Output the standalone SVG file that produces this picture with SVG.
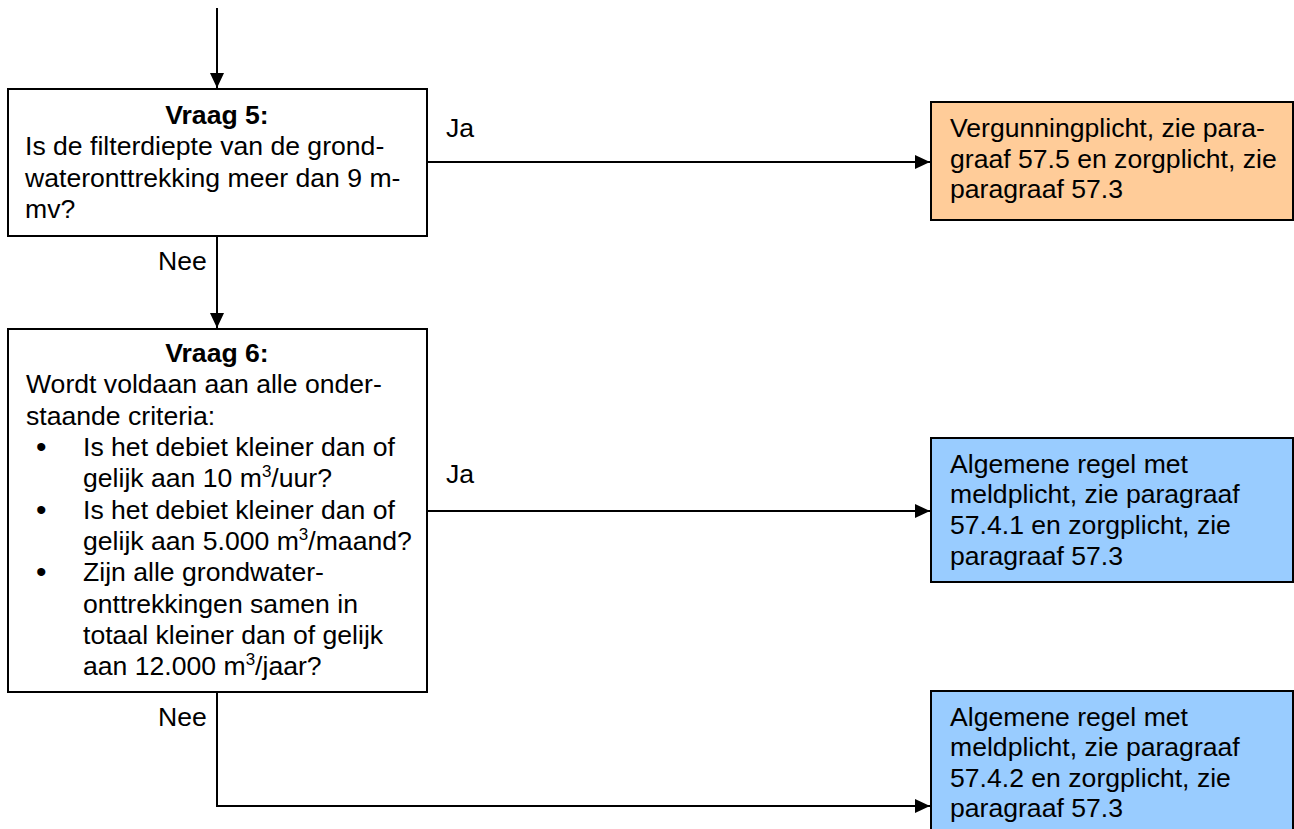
<svg xmlns="http://www.w3.org/2000/svg" width="1294" height="829" viewBox="0 0 1294 829">
<style>
text{font-family:"Liberation Sans",Arial,sans-serif;font-size:26.6px;fill:#000}
.b{font-weight:bold}
.c{text-anchor:middle}
.box{stroke:#000;stroke-width:2}
.q{fill:#fff}
.o{fill:#ffcc99}
.bl{fill:#99ccff}
.ln{fill:none;stroke:#000;stroke-width:2}
.sup{font-size:17px}
.dot{font-size:30px}
</style>
<defs>
<marker id="ah" markerWidth="15" markerHeight="14" refX="15" refY="7" orient="auto" markerUnits="userSpaceOnUse">
<path d="M0,0 L15,7 L0,14 Z" fill="#000"/>
</marker>
</defs>
<rect width="1294" height="829" fill="#fff"/>
<g id="connectors">
<path class="ln" d="M217,8 V88" marker-end="url(#ah)"/>
<path class="ln" d="M427,162 H930" marker-end="url(#ah)"/>
<path class="ln" d="M217,236 V328" marker-end="url(#ah)"/>
<path class="ln" d="M427,511 H930" marker-end="url(#ah)"/>
<path class="ln" d="M217,692 V806 H930" marker-end="url(#ah)"/>
<text x="446" y="137">Ja</text>
<text x="158" y="270">Nee</text>
<text x="446" y="483">Ja</text>
<text x="158" y="726">Nee</text>
</g>
<g id="vraag5">
<rect class="box q" x="8" y="89" width="419" height="147"/>
<text class="b c" x="217" y="124">Vraag 5:</text>
<text x="25" y="155.4">Is de filterdiepte van de grond-</text>
<text x="25" y="186.7">wateronttrekking meer dan 9 m-</text>
<text x="25" y="218">mv?</text>
</g>
<g id="vraag6">
<rect class="box q" x="8" y="329" width="419" height="363"/>
<text class="b c" x="217" y="362">Vraag 6:</text>
<text x="26" y="393.4">Wordt voldaan aan alle onder-</text>
<text x="26" y="424.7">staande criteria:</text>
<text class="dot" x="36" y="457">•</text>
<text x="83" y="456">Is het debiet kleiner dan of</text>
<text x="83" y="487.4">gelijk aan 10 m<tspan class="sup" dy="-10">3</tspan><tspan dy="10">/uur?</tspan></text>
<text class="dot" x="36" y="519.7">•</text>
<text x="83" y="518.7">Is het debiet kleiner dan of</text>
<text x="83" y="550">gelijk aan 5.000 m<tspan class="sup" dy="-10">3</tspan><tspan dy="10">/maand?</tspan></text>
<text class="dot" x="36" y="582.4">•</text>
<text x="83" y="581.4">Zijn alle grondwater-</text>
<text x="83" y="612.7">onttrekkingen samen in</text>
<text x="83" y="644">totaal kleiner dan of gelijk</text>
<text x="83" y="675.4">aan 12.000 m<tspan class="sup" dy="-10">3</tspan><tspan dy="10">/jaar?</tspan></text>
</g>
<g id="vergunningplicht">
<rect class="box o" x="931" y="102" width="362" height="118"/>
<text x="950" y="136.7">Vergunningplicht, zie para-</text>
<text x="950" y="167.5">graaf 57.5 en zorgplicht, zie</text>
<text x="950" y="198">paragraaf 57.3</text>
</g>
<g id="melding1">
<rect class="box bl" x="931" y="438" width="362" height="144"/>
<text x="950" y="472.7">Algemene regel met</text>
<text x="950" y="503.3">meldplicht, zie paragraaf</text>
<text x="950" y="534">57.4.1 en zorgplicht, zie</text>
<text x="950" y="564.5">paragraaf 57.3</text>
</g>
<g id="melding2">
<rect class="box bl" x="931" y="691" width="362" height="145"/>
<text x="950" y="725.7">Algemene regel met</text>
<text x="950" y="756.3">meldplicht, zie paragraaf</text>
<text x="950" y="786.8">57.4.2 en zorgplicht, zie</text>
<text x="950" y="817.3">paragraaf 57.3</text>
</g>
</svg>
